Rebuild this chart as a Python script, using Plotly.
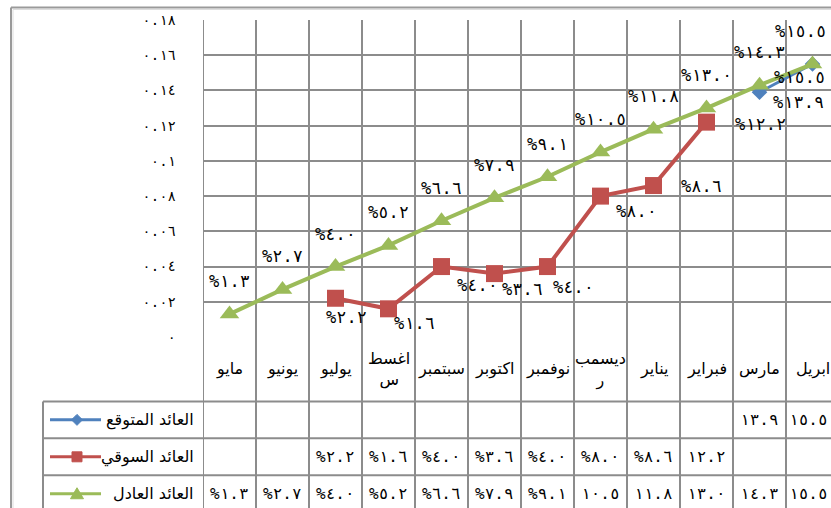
import plotly.graph_objects as go

# ---------------- data ----------------
months = ["مايو", "يونيو", "يوليو", "اغسطس", "سبتمبر", "اكتوبر",
          "نوفمبر", "ديسمبر", "يناير", "فبراير", "مارس", "ابريل"]
month_labels = ["مايو", "يونيو", "يوليو", "اغسط<br>س", "سبتمبر", "اكتوبر",
                "نوفمبر", "ديسمب<br>ر", "يناير", "فبراير", "مارس", "ابريل"]
series_names = ["العائد المتوقع", "العائد السوقي", "العائد العادل"]
expected = [None, None, None, None, None, None, None, None, None, None, 13.9, 15.5]
market = [None, None, 2.2, 1.6, 4.0, 3.6, 4.0, 8.0, 8.6, 12.2, None, None]
fair = [1.3, 2.7, 4.0, 5.2, 6.6, 7.9, 9.1, 10.5, 11.8, 13.0, 14.3, 15.5]
y_tick_vals = [0, 0.02, 0.04, 0.06, 0.08, 0.10, 0.12, 0.14, 0.16, 0.18]
y_tick_text = ["٠", "٠.٠٢", "٠.٠٤", "٠.٠٦", "٠.٠٨", "٠.١", "٠.١٢", "٠.١٤", "٠.١٦", "٠.١٨"]

# ---------------- styling ----------------
colors = ["#4F81BD", "#C0504D", "#9BBB59"]
symbols = ["diamond", "square", "triangle-up"]
msizes = [12, 17, 17]
GRID = "#8C8C8C"
NUM_FAMILY = "DejaVu Sans Mono, DejaVu Sans"
LABEL_FONT = dict(family=NUM_FAMILY, size=17, color="black")
CELL_FONT = dict(family=NUM_FAMILY, size=16, color="black")
TEXT_FONT = dict(family="DejaVu Sans", size=16, color="black")

# label offsets (px) for data labels: (dx, dy_up)
off_expected = [None] * 10 + [(39, -10), (-13, -13)]
off_market = [None, None, (11, -19), (26, -14), (36, -18), (28, -15), (26, -20), (36, -15), (48, 0), (54, -2), None, None]
off_fair = [(0, 33)] * 11 + [(-12, 33)]

W, H = 831, 508
L, T, B = 203, 20, 337.5
PW = 628
PH = B - T
COLW = 53.0


def to_ar(s):
    return s.translate(str.maketrans("0123456789", "٠١٢٣٤٥٦٧٨٩"))


def lab(v):
    return "%" + to_ar(f"{v:.1f}")


def cell(v):
    return ("%" if v < 10 else "") + to_ar(f"{v:.1f}")


def xp(px):
    return (px - L) / PW


def yp(py):
    return (B - py) / PH


idx = list(range(len(months)))
fig = go.Figure()
all_series = [expected, market, fair]
for s, name, c, sym, ms in zip(all_series, series_names, colors, symbols, msizes):
    fig.add_trace(go.Scatter(
        x=idx, y=[None if v is None else v / 100 for v in s], name=name,
        mode="lines+markers", connectgaps=False,
        line=dict(color=c, width=4 if c != colors[0] else 3),
        marker=dict(symbol=sym, size=ms, color=c),
        hoverinfo="skip", cliponaxis=False, showlegend=False))

annotations = []
for s, offs in zip(all_series, [off_expected, off_market, off_fair]):
    for i, v in enumerate(s):
        if v is None:
            continue
        dx, dy = offs[i]
        annotations.append(dict(x=i, y=v / 100, xref="x", yref="y", text=lab(v),
                                xanchor="center", yanchor="middle",
                                showarrow=False, xshift=dx, yshift=dy, font=LABEL_FONT))

shapes = []
line_style = dict(color=GRID, width=2)
# vertical category boundaries through plot and table
for i in range(len(months) + 1):
    shapes.append(dict(type="line", xref="x", yref="paper", x0=i - 0.5, x1=i - 0.5,
                       y0=1, y1=yp(515), line=line_style, layer="below"))
# table rows
row_edges = [402, 439, 476, 513]
for py in row_edges[:-1]:
    shapes.append(dict(type="line", xref="paper", yref="paper", x0=xp(43), x1=xp(845),
                       y0=yp(py), y1=yp(py), line=line_style))
shapes.append(dict(type="line", xref="paper", yref="paper", x0=xp(43), x1=xp(43),
                   y0=yp(402), y1=yp(515), line=line_style))
# outer chart border
shapes.append(dict(type="line", xref="paper", yref="paper", x0=xp(11), x1=xp(845),
                   y0=yp(7.5), y1=yp(7.5), line=dict(color="#9A9A9A", width=2)))
shapes.append(dict(type="line", xref="paper", yref="paper", x0=xp(11), x1=xp(11),
                   y0=yp(7.5), y1=yp(515), line=dict(color="#9A9A9A", width=2)))
shapes.append(dict(type="line", xref="paper", yref="paper", x0=xp(13), x1=xp(845),
                   y0=yp(9.5), y1=yp(9.5), line=dict(color="#DDDDDD", width=1)))
shapes.append(dict(type="line", xref="paper", yref="paper", x0=xp(13), x1=xp(13),
                   y0=yp(9.5), y1=yp(515), line=dict(color="#DDDDDD", width=1)))

# header row: month names
for i, m in enumerate(month_labels):
    annotations.append(dict(x=i, y=yp((B + 402) / 2), xref="x", yref="paper", text=m,
                            xanchor="center", yanchor="middle",
                            showarrow=False, font=TEXT_FONT, align="center"))

# data rows
last = len(months) - 1
for r, (s, name, c, sym) in enumerate(zip(all_series, series_names, colors, symbols)):
    top, bot = row_edges[r], row_edges[r + 1]
    cy = (top + bot) / 2
    for i, v in enumerate(s):
        if v is None:
            continue
        if i == last:
            # last column is partly outside the picture: keep its text inside
            annotations.append(dict(x=xp(W - 1), y=yp(cy), xref="paper", yref="paper",
                                    text=cell(v), xanchor="right", yanchor="middle",
                                    showarrow=False, font=CELL_FONT))
        else:
            annotations.append(dict(x=i, y=yp(cy), xref="x", yref="paper", text=cell(v),
                                    xanchor="center", yanchor="middle",
                                    showarrow=False, font=CELL_FONT))
    # legend key
    annotations.append(dict(x=xp(196), y=yp(cy), xref="paper", yref="paper", text=name,
                            xanchor="right", yanchor="middle", showarrow=False,
                            font=dict(family="DejaVu Sans", size=16, color="black")))
    shapes.append(dict(type="line", xref="paper", yref="paper", x0=xp(50), x1=xp(101),
                       y0=yp(cy), y1=yp(cy), line=dict(color=c, width=3)))
    mx = 77
    if sym == "diamond":
        pts = [(mx, cy - 5.5), (mx + 5.5, cy), (mx, cy + 5.5), (mx - 5.5, cy)]
    elif sym == "square":
        pts = [(mx - 5, cy - 5), (mx + 5, cy - 5), (mx + 5, cy + 5), (mx - 5, cy + 5)]
    else:
        pts = [(mx, cy - 6), (mx + 6.5, cy + 5), (mx - 6.5, cy + 5)]
    path = "M " + " L ".join(f"{xp(a):.5f},{yp(b):.5f}" for a, b in pts) + " Z"
    shapes.append(dict(type="path", xref="paper", yref="paper", path=path,
                       fillcolor=c, line=dict(color=c, width=1)))

fig.update_layout(
    width=W, height=H,
    margin=dict(l=L, r=W - L - PW, t=T, b=H - B, pad=0),
    paper_bgcolor="white", plot_bgcolor="white",
    xaxis=dict(range=[-0.5, -0.5 + PW / COLW], showgrid=False, zeroline=False,
               showticklabels=False, ticks="", showline=False, fixedrange=True),
    yaxis=dict(range=[0, 0.18], tickvals=y_tick_vals, ticktext=y_tick_text,
               showgrid=True, gridcolor=GRID, gridwidth=2, zeroline=False,
               ticks="", ticklabelstandoff=26, showline=False, fixedrange=True,
               tickfont=dict(family=NUM_FAMILY, size=14, color="black")),
    shapes=shapes, annotations=annotations, showlegend=False,
)

fig.write_html("out.html", config={"displayModeBar": False, "staticPlot": True},
               post_script="document.body.style.margin='0';document.body.style.overflow='hidden';")
